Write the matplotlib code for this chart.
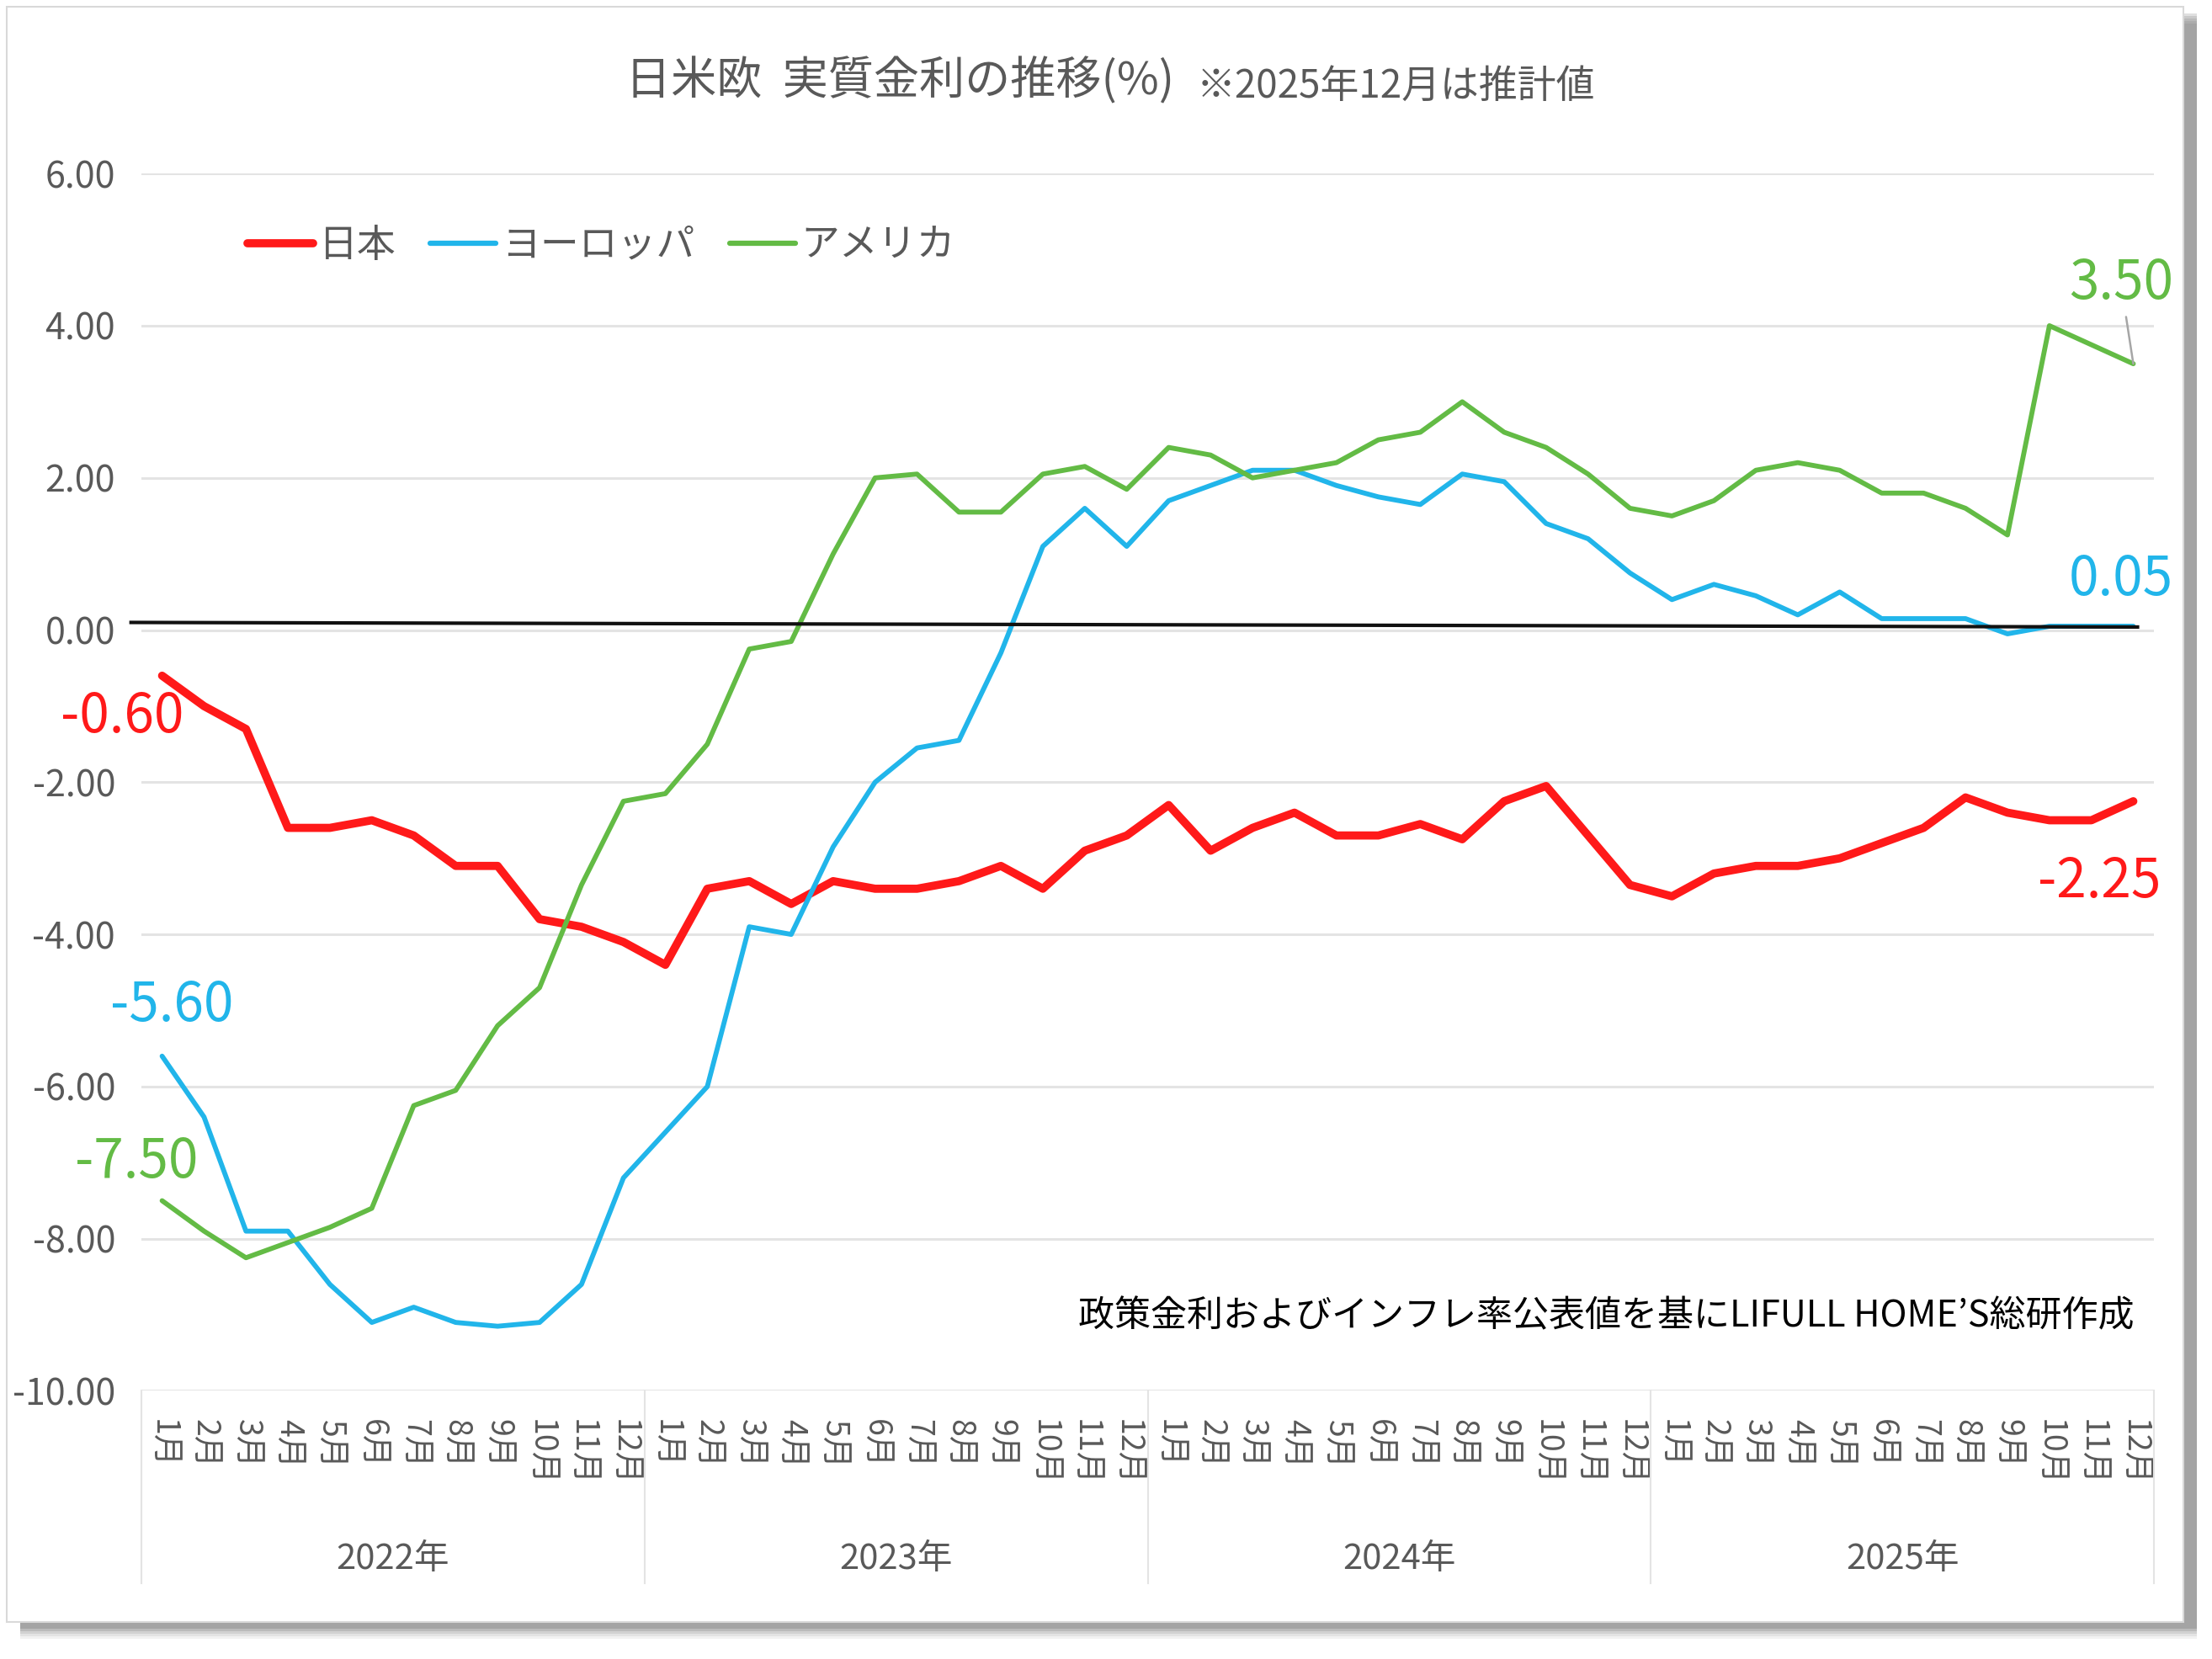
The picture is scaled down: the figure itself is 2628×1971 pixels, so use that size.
import matplotlib
matplotlib.use("Agg")
import matplotlib.pyplot as plt
import matplotlib.transforms as mtransforms
from matplotlib.patches import Rectangle
from matplotlib.lines import Line2D

plt.rcParams['font.family'] = ['Noto Sans CJK JP', 'DejaVu Sans']

GRAY = '#595959'
RED = '#FF1919'
BLUE = '#21B5EA'
GREEN = '#63BB45'

title_main = "日米欧  実質金利の推移(%)"
title_note = "※2025年12月は推計値"
source_note = "政策金利およびインフレ率公表値を基にLIFULL HOME’S総研作成"

years = ["2022年", "2023年", "2024年", "2025年"]
months = ["1月", "2月", "3月", "4月", "5月", "6月",
          "7月", "8月", "9月", "10月", "11月", "12月"]

# 実質金利(%) 2022年1月〜2025年12月
japan = [-0.60, -1.00, -1.30, -2.60, -2.60, -2.50, -2.70, -3.10, -3.10, -3.80, -3.90, -4.10,
         -4.40, -3.40, -3.30, -3.60, -3.30, -3.40, -3.40, -3.30, -3.10, -3.40, -2.90, -2.70,
         -2.30, -2.90, -2.60, -2.40, -2.70, -2.70, -2.55, -2.75, -2.25, -2.05, -2.70, -3.35,
         -3.50, -3.20, -3.10, -3.10, -3.00, -2.80, -2.60, -2.20, -2.40, -2.50, -2.50, -2.25]
europe = [-5.60, -6.40, -7.90, -7.90, -8.60, -9.10, -8.90, -9.10, -9.15, -9.10, -8.60, -7.20,
          -6.60, -6.00, -3.90, -4.00, -2.85, -2.00, -1.55, -1.45, -0.30, 1.10, 1.60, 1.10,
          1.70, 1.90, 2.10, 2.10, 1.90, 1.75, 1.65, 2.05, 1.95, 1.40, 1.20, 0.75,
          0.40, 0.60, 0.45, 0.20, 0.50, 0.15, 0.15, 0.15, -0.05, 0.05, 0.05, 0.05]
america = [-7.50, -7.90, -8.25, -8.05, -7.85, -7.60, -6.25, -6.05, -5.20, -4.70, -3.35, -2.25,
           -2.15, -1.50, -0.25, -0.15, 1.00, 2.00, 2.05, 1.55, 1.55, 2.05, 2.15, 1.85,
           2.40, 2.30, 2.00, 2.10, 2.20, 2.50, 2.60, 3.00, 2.60, 2.40, 2.05, 1.60,
           1.50, 1.70, 2.10, 2.20, 2.10, 1.80, 1.80, 1.60, 1.25, 4.00, 3.75, 3.50]

# 手で引かれたゼロ線(少し傾いている)
zero_x = [-0.74, 47.1]
zero_y = [0.10, 0.04]

n = len(japan)
x = list(range(n))

fig = plt.figure(figsize=(26.28, 19.71), dpi=100)

# カードと影
for k, a in enumerate([0.05, 0.06, 0.08, 0.10, 0.12]):
    off = 0.004 + 0.0015 * (4 - k)
    fig.patches.append(Rectangle((0.0032 + 0.006, 0.0221 - off), 0.984, 0.9736,
                                 transform=fig.transFigure, facecolor='black',
                                 alpha=a, edgecolor='none', zorder=0))
fig.patches.append(Rectangle((0.0032, 0.0221), 0.984, 0.9736, transform=fig.transFigure,
                             facecolor='white', edgecolor='#d9d9d9', lw=1.5, zorder=1))

ax = fig.add_axes([0.0638, 0.1616, 0.9101, 0.7338])
ax.set_facecolor('none')
ax.set_zorder(2)

ax.plot(x, japan, color=RED, lw=7, solid_joinstyle='round', solid_capstyle='round', zorder=3)
ax.plot(x, europe, color=BLUE, lw=4.2, solid_joinstyle='round', solid_capstyle='round', zorder=4)
ax.plot(x, america, color=GREEN, lw=4.2, solid_joinstyle='round', solid_capstyle='round', zorder=5)
ax.plot(zero_x, zero_y, color='#111111', lw=3, clip_on=False, zorder=6)

ax.set_xlim(-0.5, n - 0.5)
ax.set_ylim(-10, 6)
yt = list(range(-10, 7, 2))
ax.set_yticks(yt)
ax.set_yticklabels([f"{v:.2f}" for v in yt], fontsize=31, color=GRAY)
ax.yaxis.grid(True, color='#e4e4e4', lw=2.2)
ax.set_axisbelow(True)
for s in ax.spines.values():
    s.set_visible(False)
ax.tick_params(axis='y', length=0, pad=22)

ax.set_xticks(x)
ax.set_xticklabels(months * len(years), rotation=-90, fontsize=27, color=GRAY)
ax.tick_params(axis='x', length=0, pad=24)

# 年の区切りと年ラベル
trans = mtransforms.blended_transform_factory(ax.transData, ax.transAxes)
for i, yr in enumerate(years):
    ax.text(i * 12 + 5.5, -0.138, yr, transform=trans, ha='center', va='center',
            fontsize=30, color=GRAY)
for b in range(len(years) + 1):
    ax.add_line(Line2D([b * 12 - 0.5] * 2, [0, -0.158], transform=trans,
                       color='#e4e4e4', lw=1.5, clip_on=False))

# データラベル
def label(series, i, color, dx, dy, ha='center', leader=False):
    props = None
    if leader:
        props = dict(arrowstyle='-', color='#a6a6a6', lw=1.8, shrinkA=3, shrinkB=0)
    ax.annotate(f"{series[i]:.2f}", xy=(i, series[i]), xytext=(dx, dy),
                textcoords='offset points', ha=ha, va='center', fontsize=46,
                color=color, arrowprops=props, zorder=7)

label(japan, 0, RED, -34, -35)
label(europe, 0, BLUE, 8, 43)
label(america, 0, GREEN, -22, 33)
label(america, n - 1, GREEN, 34, 69, ha='right', leader=True)
label(europe, n - 1, BLUE, 34, 40, ha='right')
label(japan, n - 1, RED, 24, -69, ha='right')

# 凡例
handles = [Line2D([], [], color=RED, lw=7, solid_capstyle='round'),
           Line2D([], [], color=BLUE, lw=4.5, solid_capstyle='round'),
           Line2D([], [], color=GREEN, lw=4.5, solid_capstyle='round')]
leg = ax.legend(handles, ["日本", "ヨーロッパ", "アメリカ"], loc='center left',
                bbox_to_anchor=(0.045, 0.941), ncol=3, frameon=False, fontsize=33,
                handlelength=1.7, handletextpad=0.15, columnspacing=0.9, borderaxespad=0)
for t in leg.get_texts():
    t.set_color(GRAY)

ax.text(0.99, 0.061, source_note, transform=ax.transAxes, ha='right', va='center',
        fontsize=31, color='black')

fig.text(0.531, 0.951, title_main, ha='right', va='center', fontsize=39, color=GRAY)
fig.text(0.541, 0.948, title_note, ha='left', va='center', fontsize=33, color=GRAY)

fig.savefig('out.png', dpi=100)
